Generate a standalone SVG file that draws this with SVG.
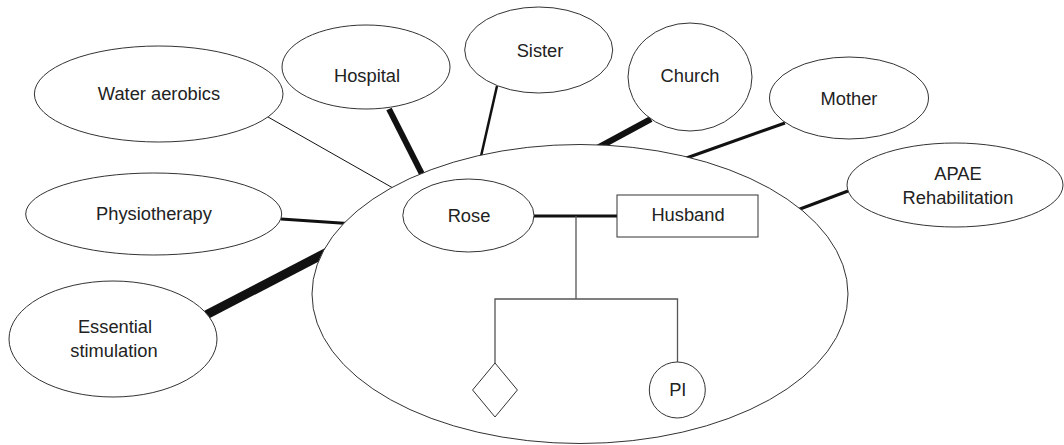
<svg xmlns="http://www.w3.org/2000/svg" width="1064" height="445" viewBox="0 0 1064 445">
<style>
.n{fill:#fff;stroke:#333;stroke-width:1}
.t{font-family:"Liberation Sans",Arial,sans-serif;font-size:18.3px;fill:#222;text-anchor:middle}
.c{stroke:#111;fill:none;stroke-linecap:butt}
.g{stroke:#555;fill:none;stroke-width:1.3}
</style>
<rect width="1064" height="445" fill="#fff"/>
<g id="connectors">
<line class="c" x1="268" y1="117" x2="400" y2="192" stroke-width="1"/>
<line class="c" x1="389" y1="109" x2="426" y2="182" stroke-width="6"/>
<line class="c" x1="497" y1="86" x2="479" y2="165" stroke-width="2.5"/>
<line class="c" x1="651" y1="119" x2="590" y2="152" stroke-width="6"/>
<line class="c" x1="785" y1="123" x2="678" y2="161" stroke-width="3"/>
<line class="c" x1="848" y1="191" x2="792" y2="212" stroke-width="3"/>
<line class="c" x1="281" y1="219" x2="355" y2="224" stroke-width="3"/>
<line class="c" x1="206" y1="315" x2="335" y2="248" stroke-width="9"/>
</g>
<g id="family">
<ellipse class="n" cx="580" cy="294" rx="268" ry="149.5"/>
</g>
<g id="family-lines">
<line class="c" x1="530" y1="216" x2="617" y2="216" stroke-width="3"/>
<polyline class="g" points="576,216 576,299"/>
<polyline class="g" points="495,363 495,299 677.5,299 677.5,362"/>
</g>
<g id="water-aerobics"><ellipse class="n" cx="158.7" cy="94" rx="124.3" ry="48"/><text class="t" x="159" y="100">Water aerobics</text></g>
<g id="hospital"><ellipse class="n" cx="366" cy="67" rx="84" ry="42"/><text class="t" x="367" y="82">Hospital</text></g>
<g id="sister"><ellipse class="n" cx="538.7" cy="50" rx="74" ry="43"/><text class="t" x="540" y="57">Sister</text></g>
<g id="church"><ellipse class="n" cx="690" cy="77" rx="62" ry="54"/><text class="t" x="690" y="82">Church</text></g>
<g id="mother"><ellipse class="n" cx="849" cy="98" rx="79.5" ry="41"/><text class="t" x="849" y="105">Mother</text></g>
<g id="apae"><ellipse class="n" cx="955" cy="185" rx="108" ry="42"/><text class="t" x="958" y="180">APAE</text><text class="t" x="958" y="204">Rehabilitation</text></g>
<g id="physiotherapy"><ellipse class="n" cx="153.7" cy="214" rx="128" ry="41"/><text class="t" x="154" y="220">Physiotherapy</text></g>
<g id="essential-stimulation"><ellipse class="n" cx="113" cy="339" rx="104" ry="58"/><text class="t" x="115" y="333">Essential</text><text class="t" x="114" y="357">stimulation</text></g>
<g id="rose"><ellipse class="n" cx="468.4" cy="215.5" rx="65.6" ry="36.5"/><text class="t" x="469" y="222">Rose</text></g>
<g id="husband"><rect class="n" x="617" y="195" width="141" height="42"/><text class="t" x="688" y="221">Husband</text></g>
<g id="child"><polygon class="n" points="495,363 517.4,390 495,417 472.6,390"/></g>
<g id="pi"><circle class="n" cx="677.3" cy="390" r="28"/><text class="t" x="677.8" y="396">PI</text></g>
</svg>
